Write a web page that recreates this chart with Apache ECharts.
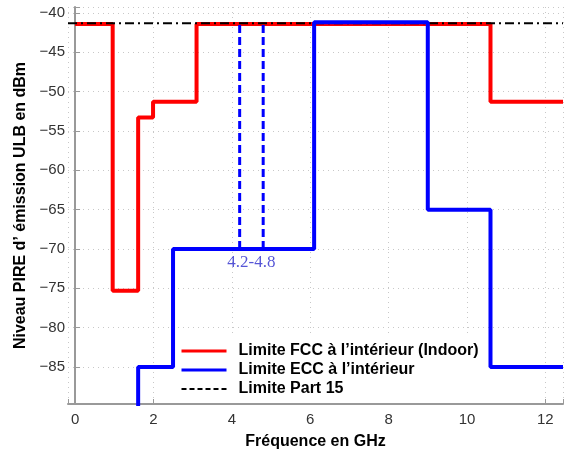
<!DOCTYPE html>
<html>
<head>
<meta charset="utf-8">
<script src="https://cdn.jsdelivr.net/npm/echarts@6/dist/echarts.min.js"></script>
<style>
html,body{margin:0;padding:0;background:#fff;}
#c{width:566px;height:455px;}
</style>
</head>
<body>
<div id="c"></div>
<script>
// ---- data ----
const seriesNames = ['Limite FCC à l’intérieur (Indoor)', 'Limite ECC à l’intérieur', 'Limite Part 15'];
const fccX = [0, 0.96, 1.61, 1.99, 3.1, 10.6, 12.45];
const fccY = [-41.4, -75.3, -53.3, -51.3, -41.4, -51.3];
const eccX = [1.61, 1.61, 2.5, 6.1, 9.0, 10.6, 12.45];
const eccY = [-100, -85, -70, -41.2, -65, -85];
const part15X = [-0.18, 12.45];
const part15Y = [-41.3, -41.3];
const bandX = [4.2, 4.8];
const bandY = [-70, -41.2];
const bandLabel = '4.2-4.8';
const bandLabelPos = [4.5, -71.7];
const xRange = [-0.18, 12.45];
const yRange = [-89.7, -39.25];

function steps(xs, ys) {
  const d = [];
  for (let i = 0; i < ys.length; i++) d.push([xs[i], ys[i]]);
  d.push([xs[xs.length - 1], ys[ys.length - 1]]);
  return d;
}

const font = 'Arial, "Liberation Sans", sans-serif';
const chart = echarts.init(document.getElementById('c'));

const bandSeries = bandX.map(x => ({
  type: 'line', name: 'band' + x, data: bandY.map(y => [x, y]),
  symbol: 'none', silent: true, z: 3,
  lineStyle: { color: '#0000ff', width: 3, type: [8, 4] }
}));

chart.setOption({
  animation: false,
  backgroundColor: '#fff',
  grid: { left: 68, right: 0, top: 7, bottom: 50 },
  xAxis: {
    type: 'value', min: xRange[0], max: xRange[1], minInterval: 2, maxInterval: 2,
    name: 'Fréquence en GHz', nameLocation: 'middle', nameGap: 30,
    nameTextStyle: { fontFamily: font, fontSize: 16, fontWeight: 'bold', color: '#000' },
    axisLine: { lineStyle: { color: '#999', width: 2 } },
    axisTick: { inside: true, length: 5, lineStyle: { color: '#999', width: 1 } },
    axisLabel: { fontFamily: font, fontSize: 15, color: '#333', margin: 8,
      formatter: v => (Math.abs(v % 2) < 1e-9 ? String(v) : '') },
    splitLine: { show: true, lineStyle: { color: '#c8c8c8', type: [1, 4], width: 1 } }
  },
  yAxis: {
    type: 'value', min: yRange[0], max: yRange[1], minInterval: 5, maxInterval: 5,
    name: 'Niveau PIRE d’ émission ULB en dBm', nameLocation: 'middle', nameGap: 39,
    nameTextStyle: { fontFamily: font, fontSize: 16, fontWeight: 'bold', color: '#000' },
    axisLine: { show: true, lineStyle: { color: '#999', width: 2 } },
    axisTick: { show: true, inside: true, length: 5, lineStyle: { color: '#999', width: 1 } },
    axisLabel: { fontFamily: font, fontSize: 15, color: '#333', margin: 3,
      formatter: v => (Math.abs(v % 5) < 1e-9 && v > -90 ? String(v).replace('-', '\u2212') : '') },
    splitLine: { show: true, lineStyle: { color: '#c8c8c8', type: [1, 4], width: 1 } }
  },
  legend: {
    orient: 'vertical', left: 176, top: 335,
    padding: [8, 13, 6, 4], itemGap: 3, itemWidth: 45, itemHeight: 14,
    backgroundColor: '#fff',
    itemStyle: { opacity: 0 },
    textStyle: { fontFamily: font, fontSize: 16, fontWeight: 'bold', color: '#000', padding: [0, 0, 0, 7] },
    data: [
      { name: seriesNames[0], itemStyle: { opacity: 0 }, lineStyle: { width: 3 } },
      { name: seriesNames[1], itemStyle: { opacity: 0 }, lineStyle: { width: 3 } },
      { name: seriesNames[2], itemStyle: { opacity: 0 }, lineStyle: { type: [5, 3], width: 2 } }
    ]
  },
  series: [
    { type: 'line', name: seriesNames[0], data: steps(fccX, fccY), step: 'end', symbol: 'none', z: 2,
      itemStyle: { color: '#ff0000' }, lineStyle: { color: '#ff0000', width: 4 } },
    { type: 'line', name: seriesNames[2], data: part15X.map((x, i) => [x, part15Y[i]]), symbol: 'none', z: 3,
      itemStyle: { color: '#000' }, lineStyle: { color: '#000', width: 2, type: [9, 4, 2, 4] } },
    { type: 'line', name: seriesNames[1], data: steps(eccX, eccY), step: 'end', symbol: 'none', z: 4,
      itemStyle: { color: '#0000ff' }, lineStyle: { color: '#0000ff', width: 4 } },
    ...bandSeries,
    { type: 'scatter', name: 'bandLabel', data: [bandLabelPos], symbolSize: 1, silent: true,
      itemStyle: { color: 'rgba(0,0,0,0)' },
      label: { show: true, position: 'inside', formatter: bandLabel,
        fontFamily: '"Liberation Serif", "Times New Roman", serif', fontSize: 17, color: '#2b2bcc' } }
  ]
});
</script>
</body>
</html>
